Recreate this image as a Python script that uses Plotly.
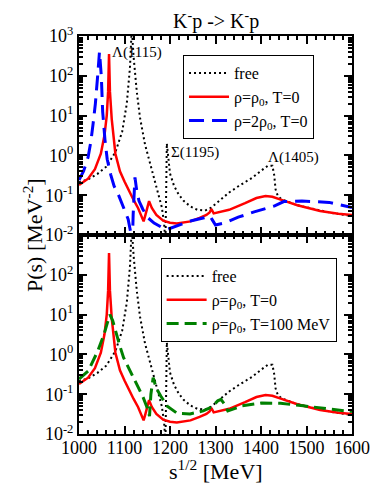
import plotly.graph_objects as go
from plotly.subplots import make_subplots

# sqrt(s) [MeV] and P(s) [MeV^-2]
free_e = [1000, 1020, 1040, 1060, 1080, 1095, 1105, 1112, 1116, 1120, 1127, 1134, 1145, 1160,
          1173, 1182, 1187, 1190, 1193, 1196, 1200, 1209, 1219, 1230, 1245, 1260, 1277, 1291,
          1309, 1330, 1351, 1380, 1400, 1415, 1425, 1429, 1432, 1437, 1445, 1480, 1520, 1560, 1600]
free_p = [0.21, 0.25, 0.34, 0.52, 1.2, 4.0, 20, 160, 1600, 300, 40, 9, 1.9, 0.45,
          0.13, 0.05, 0.02, 0.006, 2.0, 0.9, 0.35, 0.17, 0.105, 0.072, 0.052, 0.043, 0.041, 0.049,
          0.072, 0.117, 0.17, 0.27, 0.41, 0.55, 0.55, 0.32, 0.14, 0.095, 0.079, 0.056, 0.044, 0.035, 0.030]

rho0_e = [1000, 1020, 1035, 1048, 1056, 1061, 1064, 1066, 1068, 1072, 1080, 1090, 1100, 1110,
          1120, 1130, 1142, 1146, 1154, 1160, 1170, 1185, 1200, 1215, 1245, 1265, 1280, 1287,
          1291, 1296, 1330, 1365, 1390, 1410, 1425, 1445, 1480, 1530, 1570, 1600]
rho0_p = [0.18, 0.26, 0.45, 1.1, 3.2, 10, 40, 350, 40, 8, 1.1, 0.4, 0.22, 0.126,
          0.076, 0.047, 0.022, 0.032, 0.071, 0.048, 0.032, 0.023, 0.0204, 0.0195, 0.022, 0.027, 0.032, 0.037,
          0.045, 0.035, 0.043, 0.063, 0.085, 0.095, 0.091, 0.076, 0.056, 0.040, 0.034, 0.032]

rho2_e = [1000, 1010, 1020, 1026, 1031, 1036, 1041, 1045, 1049, 1052, 1057, 1062, 1070, 1077,
          1087, 1098, 1108, 1113, 1116, 1119, 1123, 1127, 1132, 1140, 1150, 1165, 1180, 1195,
          1215, 1245, 1275, 1288, 1293, 1300, 1320, 1350, 1385, 1430, 1450, 1490, 1550, 1600]
rho2_p = [0.24, 0.4, 0.9, 2.2, 6.3, 20, 100, 400, 100, 12.6, 2.5, 0.8, 0.32, 0.17,
          0.1, 0.047, 0.025, 0.0126, 0.0016, 0.032, 0.28, 0.126, 0.071, 0.045, 0.028, 0.02, 0.016, 0.014,
          0.017, 0.0224, 0.027, 0.030, 0.024, 0.0178, 0.02, 0.028, 0.038, 0.054, 0.069, 0.071, 0.066, 0.049]

t100_e = [1000, 1020, 1041, 1055, 1062, 1068, 1074, 1080, 1090, 1098, 1110, 1120, 1130, 1141,
          1150, 1155, 1158, 1163, 1170, 1180, 1194, 1216, 1244, 1273, 1291, 1305, 1312, 1320,
          1327, 1340, 1359, 1401, 1443, 1493, 1536, 1586, 1600]
t100_p = [0.24, 0.38, 1.2, 3.2, 6.0, 10, 7.1, 3.8, 1.6, 0.83, 0.45, 0.26, 0.15, 0.083,
          0.045, 0.028, 0.1, 0.26, 0.14, 0.089, 0.05, 0.033, 0.032, 0.038, 0.047, 0.068, 0.074, 0.056,
          0.038, 0.043, 0.051, 0.060, 0.059, 0.051, 0.044, 0.038, 0.037]

y_vals = [0.01, 0.1, 1, 10, 100, 1000]
y_text = ["10<sup>-2</sup>", "10<sup>-1</sup>", "10<sup>0</sup>", "10<sup>1</sup>",
          "10<sup>2</sup>", "10<sup>3</sup>"]
x_vals = [1000, 1100, 1200, 1300, 1400, 1500, 1600]

FONT = "Liberation Serif"
DOT = "2px,3px"

fig = make_subplots(rows=2, cols=1, shared_xaxes=True, vertical_spacing=0)

fig.add_trace(go.Scatter(x=free_e, y=free_p, mode="lines", name="free",
                         line=dict(color="black", width=2, dash=DOT), legend="legend"), row=1, col=1)
fig.add_trace(go.Scatter(x=rho0_e, y=rho0_p, mode="lines", name="ρ=ρ<sub>0</sub>, T=0",
                         line=dict(color="#ff0000", width=2.5), legend="legend"), row=1, col=1)
fig.add_trace(go.Scatter(x=rho2_e, y=rho2_p, mode="lines", name="ρ=2ρ<sub>0</sub>, T=0",
                         line=dict(color="#0000ff", width=3, dash="15px,8px"), legend="legend"), row=1, col=1)

fig.add_trace(go.Scatter(x=free_e, y=free_p, mode="lines", name="free",
                         line=dict(color="black", width=2, dash=DOT), legend="legend2"), row=2, col=1)
fig.add_trace(go.Scatter(x=rho0_e, y=rho0_p, mode="lines", name="ρ=ρ<sub>0</sub>, T=0",
                         line=dict(color="#ff0000", width=2.5), legend="legend2"), row=2, col=1)
fig.add_trace(go.Scatter(x=t100_e, y=t100_p, mode="lines", name="ρ=ρ<sub>0</sub>, T=100 MeV",
                         line=dict(color="#008000", width=3, dash="12px,6px"), legend="legend2"), row=2, col=1)

axis_common = dict(showline=True, linecolor="black", linewidth=2, mirror="allticks",
                   ticks="inside", ticklen=8, tickwidth=1.5, tickcolor="black",
                   showgrid=False, zeroline=False,
                   tickfont=dict(family=FONT, size=18, color="black"))

fig.update_xaxes(range=[1000, 1600], tickvals=x_vals, ticklabelstandoff=-4,
                 minor=dict(ticks="inside", ticklen=4, dtick=20, tickcolor="black", showgrid=False),
                 **axis_common)
fig.update_xaxes(showticklabels=False, row=1, col=1)

fig.update_yaxes(type="log", range=[-2, 3], tickvals=y_vals, ticktext=y_text,
                 minor=dict(ticks="inside", ticklen=4, dtick="D1", tickcolor="black", showgrid=False),
                 **axis_common)
fig.update_yaxes(tickvals=y_vals[:-1], ticktext=y_text[:-1], row=2, col=1)

# resonance labels, placed in data coordinates (y in log10 units)
fig.add_annotation(x=1128, y=2.58, xref="x", yref="y", text="Λ(1115)", showarrow=False,
                   font=dict(family=FONT, size=15, color="black"))
fig.add_annotation(x=1254, y=0.08, xref="x", yref="y", text="Σ(1195)", showarrow=False,
                   font=dict(family=FONT, size=15, color="black"))
fig.add_annotation(x=1472, y=-0.05, xref="x", yref="y", text="Λ(1405)", showarrow=False,
                   font=dict(family=FONT, size=15, color="black"))

fig.add_annotation(x=0.5, y=1, xref="paper", yref="paper", yanchor="middle", yshift=16,
                   text="K<sup>-</sup>p -> K<sup>-</sup>p",
                   showarrow=False, font=dict(family=FONT, size=20, color="black"))
fig.add_annotation(x=0.5, y=0, xref="paper", yref="paper", yanchor="top", yshift=-20,
                   text="s<sup>1/2</sup> [MeV]",
                   showarrow=False, font=dict(family=FONT, size=22, color="black"))
fig.add_annotation(x=0, y=0.5, xref="paper", yref="paper", xshift=-62, text="P(s) [MeV<sup>-2</sup>]",
                   textangle=-90, showarrow=False, font=dict(family=FONT, size=22, color="black"))

legend_common = dict(bgcolor="white", bordercolor="black", borderwidth=1,
                     font=dict(family=FONT, size=16, color="black"), itemwidth=40,
                     xanchor="left", yanchor="top", tracegroupgap=0)

# the page body has an 8px margin, so the figure is 8px smaller and shifted
fig.update_layout(
    width=374, height=483,
    margin=dict(l=71, r=22, t=28, b=57),
    paper_bgcolor="white", plot_bgcolor="white",
    showlegend=True,
    legend=dict(x=0.381, y=0.952, **legend_common),
    legend2=dict(x=0.299, y=0.442, **legend_common),
)

fig.write_html("out.html")
